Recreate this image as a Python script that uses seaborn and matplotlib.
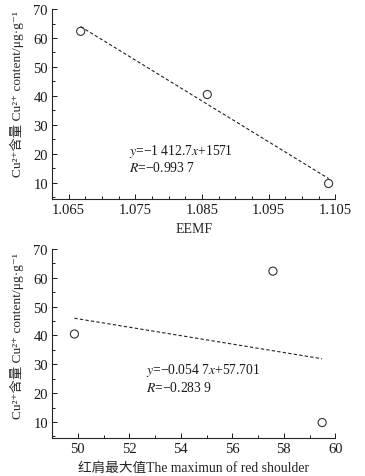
import numpy as np
import pandas as pd
import matplotlib
matplotlib.use("Agg")
import matplotlib.pyplot as plt
from matplotlib.ticker import MultipleLocator, FormatStrFormatter
import seaborn as sns

# data
cu_content = [62.3, 40.5, 9.8]
eemf = [1.0668, 1.0858, 1.1040]
red_shoulder = [49.87, 57.58, 59.49]
cu_by_red = [40.5, 62.3, 9.8]

eq_top = "$y$=\u22121 412.7$x$+1571\n$R$=\u22120.993 7"
eq_bot = "$y$=\u22120.054 7$x$+57.701\n$R$=\u22120.283 9"

ylab = "Cu\u00b2\u207a含量 Cu\u00b2\u207a content/\u03bcg\u00b7g\u207b\u00b9"

sns.set_style("ticks")
plt.rcParams['font.family'] = ['Liberation Serif', 'Noto Sans CJK SC', 'DejaVu Sans']
plt.rcParams['mathtext.fontset'] = 'stix'
plt.rcParams['font.size'] = 10
plt.rcParams['axes.linewidth'] = 0.8
plt.rcParams['text.color'] = '#1a1a1a'

fig = plt.figure(figsize=(3.65, 4.77), dpi=100)
ax1 = fig.add_axes([0.1425, 0.581, 0.776, 0.398])
ax2 = fig.add_axes([0.1425, 0.080, 0.776, 0.396])

df1 = pd.DataFrame({"x": eemf, "y": cu_content})
df2 = pd.DataFrame({"x": red_shoulder, "y": cu_by_red})

for ax, df in [(ax1, df1), (ax2, df2)]:
    sns.regplot(data=df, x="x", y="y", ax=ax, ci=None,
                scatter_kws=dict(s=34, facecolors='none', edgecolors='black', linewidths=0.8),
                line_kws=dict(color='#222222', lw=0.8, ls=(0, (3, 2))))
    sns.despine(ax=ax)
    ax.set_ylim(4.5, 70)
    ax.yaxis.set_major_locator(MultipleLocator(10))
    ax.yaxis.set_minor_locator(MultipleLocator(5))
    ax.tick_params(which='both', direction='in', colors='#1a1a1a', labelsize=10.5, width=0.7)
    ax.tick_params(which='major', length=3.5, pad=3)
    ax.tick_params(which='minor', length=2)
    ax.set_ylabel(ylab, fontsize=9.6)

ax1.yaxis.set_label_coords(-0.098, 0.555)
ax2.yaxis.set_label_coords(-0.098, 0.545)

ax1.set_xlim(1.0625, 1.105)
ax1.xaxis.set_major_locator(MultipleLocator(0.01, offset=0.005))
ax1.xaxis.set_minor_locator(MultipleLocator(0.0025))
ax1.xaxis.set_major_formatter(FormatStrFormatter('%.3f'))
ax1.set_xlabel("EEMF", fontsize=10, labelpad=4)

ax2.set_xlim(49, 60)
ax2.xaxis.set_major_locator(MultipleLocator(2))
ax2.xaxis.set_minor_locator(MultipleLocator(1))
ax2.set_xlabel("红肩最大值The maximun of red shoulder", fontsize=9.8, labelpad=4)

ax1.text(1.0740, 14.1, eq_top, fontsize=9.8, family='Liberation Serif', linespacing=1.1)
ax2.text(52.65, 20.9, eq_bot, fontsize=9.8, family='Liberation Serif', linespacing=1.1)

fig.savefig("out.png", dpi=100)
